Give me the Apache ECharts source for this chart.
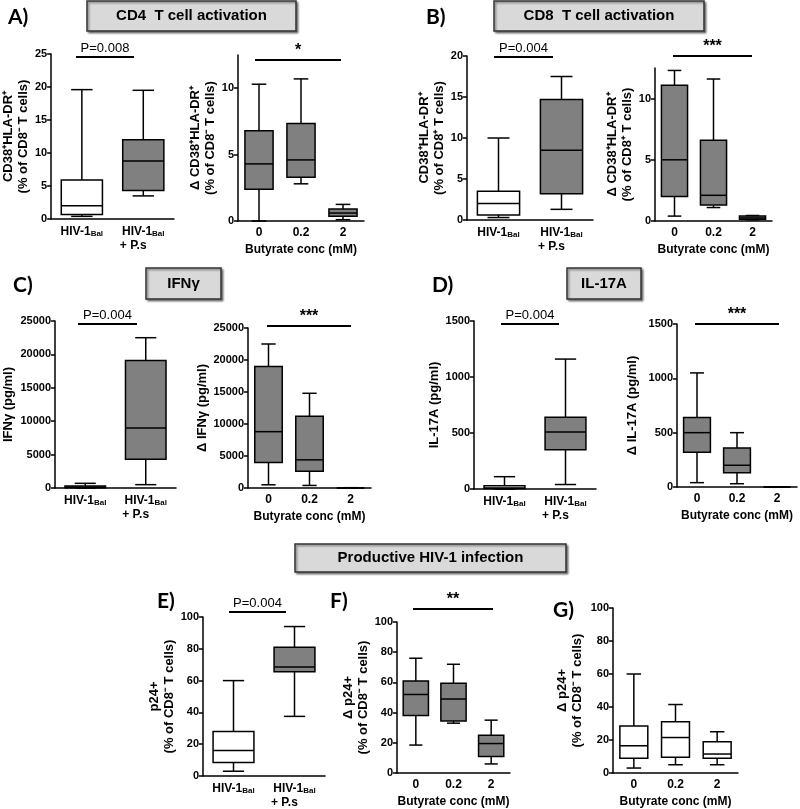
<!DOCTYPE html>
<html><head><meta charset="utf-8">
<script src="https://cdn.jsdelivr.net/npm/echarts@6/dist/echarts.min.js"></script>
<style>html,body{margin:0;padding:0;background:#fff}#c{width:800px;height:809px}</style>
</head><body><div id="c"></div>
<script>
// ---------------- DATA ----------------
const catsInfection = ['HIV-1Bal', 'HIV-1Bal + P.s'];
const catsButyrate = ['0', '0.2', '2'];
// each box: [min, Q1, median, Q3, max]
const cd4Infection = [[0.4, 0.7, 2.0, 5.9, 19.6], [3.5, 4.3, 8.8, 12.0, 19.5]];
const cd4Butyrate = [[0.0, 2.4, 4.3, 6.8, 10.3], [2.8, 3.3, 4.6, 7.35, 10.7], [0.1, 0.35, 0.6, 0.9, 1.25]];
const cd8Infection = [[0.3, 0.6, 2.0, 3.5, 10.0], [1.3, 3.2, 8.5, 14.7, 17.5]];
const cd8Butyrate = [[0.4, 2.0, 5.0, 11.1, 12.3], [1.1, 1.3, 2.1, 6.6, 11.6], [0.1, 0.15, 0.25, 0.4, 0.45]];
const ifngInfection = [[0, 50, 150, 300, 700], [500, 4300, 9000, 19100, 22500]];
const ifngButyrate = [[500, 4000, 8800, 19000, 22500], [400, 2600, 4400, 11200, 14800], [0, 0, 0, 0, 50]];
const il17Infection = [[0, 5, 10, 30, 110], [40, 350, 510, 640, 1160]];
const il17Butyrate = [[40, 320, 500, 640, 1050], [30, 130, 200, 360, 500], [0, 0, 0, 0, 0]];
const p24Infection = [[3, 8.5, 16, 28, 60], [37.5, 65.5, 68.5, 81, 94]];
const p24ButyrateF = [[18.5, 38, 52, 61, 76], [33, 34.5, 49, 59.5, 72], [6, 11, 19.5, 25, 35]];
const p24ButyrateG = [[3, 9, 16.5, 28.5, 60], [5, 9.5, 21.5, 31, 41.5], [5, 9, 11.5, 19, 25]];

const ticksCd4Inf = [0, 5, 10, 15, 20, 25];
const ticksDelta12 = [0, 5, 10];
const ticksCd8Inf = [0, 5, 10, 15, 20];
const ticksIfng = [0, 5000, 10000, 15000, 20000, 25000];
const ticksIl17 = [0, 500, 1000, 1500];
const ticksP24 = [0, 20, 40, 60, 80, 100];

const pValA = 'P=0.008', pValB = 'P=0.004', pValC = 'P=0.004', pValD = 'P=0.004', pValE = 'P=0.004';

// ---------------- STYLE / LAYOUT ----------------
const FONT = '"Liberation Sans", Arial, sans-serif';
const LFONT = 'Lato, "Open Sans", sans-serif';
const GREY = '#808080';
const W = '#ffffff';

const panels = [
  {rect:[50, 54, 124, 165], cats:catsInfection, data:cd4Infection, ticks:ticksCd4Inf, max:25, fills:[W, GREY],
   name:'CD38⁺HLA-DR⁺\n(% of CD8⁻ T cells)', gap:19},
  {rect:[238, 55, 126, 166], cats:catsButyrate, data:cd4Butyrate, ticks:ticksDelta12, max:12.5, fills:[GREY, GREY, GREY],
   name:'Δ CD38⁺HLA-DR⁺\n(% of CD8⁻ T cells)', gap:19},
  {rect:[467, 56, 126, 164], cats:catsInfection, data:cd8Infection, ticks:ticksCd8Inf, max:20, fills:[W, GREY],
   name:'CD38⁺HLA-DR⁺\n(% of CD8⁺ T cells)', gap:18},
  {rect:[655, 68, 117, 153], cats:catsButyrate, data:cd8Butyrate, ticks:ticksDelta12, max:12.5, fills:[GREY, GREY, GREY],
   name:'Δ CD38⁺HLA-DR⁺\n(% of CD8⁺ T cells)', gap:19},
  {rect:[52, 321, 124, 167], cats:catsInfection, data:ifngInfection, ticks:ticksIfng, max:25000, fills:[W, GREY],
   name:'IFNγ (pg/ml)', gap:39},
  {rect:[248, 328, 123, 160], cats:catsButyrate, data:ifngButyrate, ticks:ticksIfng, max:25000, fills:[GREY, GREY, GREY],
   name:'Δ IFNγ (pg/ml)', gap:38},
  {rect:[474, 321, 122, 168], cats:catsInfection, data:il17Infection, ticks:ticksIl17, max:1500, fills:[W, GREY],
   name:'IL-17A (pg/ml)', gap:30},
  {rect:[677, 324, 120, 163], cats:catsButyrate, data:il17Butyrate, ticks:ticksIl17, max:1500, fills:[GREY, GREY, GREY],
   name:'Δ IL-17A (pg/ml)', gap:37},
  {rect:[203, 617, 122, 159], cats:catsInfection, data:p24Infection, ticks:ticksP24, max:100, fills:[W, GREY],
   name:'p24+\n(% of CD8⁻ T cells)', gap:17},
  {rect:[397, 622, 113, 151], cats:catsButyrate, data:p24ButyrateF, ticks:ticksP24, max:100, fills:[GREY, GREY, GREY],
   name:'Δ p24+\n(% of CD8⁻ T cells)', gap:17},
  {rect:[613, 608, 125, 166], cats:catsButyrate, data:p24ButyrateG, ticks:ticksP24, max:100, fills:[W, W, W],
   name:'Δ p24+\n(% of CD8⁻ T cells)', gap:28}
];

function boxRenderer(fills) {
  return function (params, api) {
    const i = api.value(0);
    const pts = [1, 2, 3, 4, 5].map(k => api.coord([i, api.value(k)]));
    const cx = pts[0][0];
    const band = api.size([1, 0])[0];
    const hw = band * 0.67 / 2, cw = hw * 0.52;
    const st = {stroke: '#000', lineWidth: 1.5, fill: null};
    return {type: 'group', children: [
      {type: 'line', shape: {x1: cx, y1: pts[4][1], x2: cx, y2: pts[0][1]}, style: st},
      {type: 'line', shape: {x1: cx - cw, y1: pts[4][1], x2: cx + cw, y2: pts[4][1]}, style: st},
      {type: 'line', shape: {x1: cx - cw, y1: pts[0][1], x2: cx + cw, y2: pts[0][1]}, style: st},
      {type: 'rect', shape: {x: cx - hw, y: pts[3][1], width: 2 * hw, height: pts[1][1] - pts[3][1]},
       style: {fill: fills[i], stroke: '#000', lineWidth: 1.5}},
      {type: 'line', shape: {x1: cx - hw, y1: pts[2][1], x2: cx + hw, y2: pts[2][1]}, style: st}
    ]};
  };
}

const axLine = {lineStyle: {color: '#000', width: 1.5}};
const richX = {
  b: {fontFamily: FONT, fontSize: 12, fontWeight: 'bold', color: '#000'},
  s: {fontFamily: FONT, fontSize: 8, fontWeight: 'bold', color: '#000', padding: [5, 0, 0, 0]},
  p: {fontFamily: FONT, fontSize: 12, fontWeight: 'bold', color: '#000', width: 47, align: 'left', padding: [2, 0, 0, 0]}
};
function xFormatter(v) {
  if (v === 'HIV-1Bal') return '{b|HIV-1}{s|Bal}';
  if (v === 'HIV-1Bal + P.s') return '{b|HIV-1}{s|Bal}\n{p|+ P.s}';
  return '{b|' + v + '}';
}

const grids = [], xAxes = [], yAxes = [], series = [];
panels.forEach((p, k) => {
  grids.push({left: p.rect[0], top: p.rect[1], width: p.rect[2], height: p.rect[3], containLabel: false});
  const isBut = p.cats === catsButyrate;
  xAxes.push({
    type: 'category', gridIndex: k, data: p.cats, axisLine: axLine,
    axisTick: {alignWithLabel: true, length: 4, lineStyle: {color: '#000', width: 1.5}},
    axisLabel: {margin: 6, formatter: xFormatter, rich: richX, interval: 0},
    name: isBut ? 'Butyrate conc (mM)' : '', nameLocation: 'middle', nameGap: 23,
    nameTextStyle: {fontFamily: FONT, fontSize: 12, fontWeight: 'bold', color: '#000'}
  });
  yAxes.push({
    type: 'value', gridIndex: k, min: 0, max: p.max,
    interval: p.ticks[1] - p.ticks[0],
    axisLine: {show: true, lineStyle: {color: '#000', width: 1.5}},
    axisTick: {show: true, length: 4, lineStyle: {color: '#000', width: 1.5}, customValues: p.ticks},
    axisLabel: {fontFamily: FONT, fontSize: 11, fontWeight: 'bold', color: '#000', margin: 4, customValues: p.ticks,
      formatter: v => String(v)},
    splitLine: {show: false},
    name: p.name, nameLocation: 'middle', nameRotate: 90, nameGap: p.gap,
    nameTextStyle: {fontFamily: FONT, fontSize: 13, fontWeight: 'bold', color: '#000', lineHeight: 15}
  });
  series.push({
    type: 'custom', xAxisIndex: k, yAxisIndex: k,
    data: p.data.map((d, i) => [i].concat(d)),
    encode: {x: 0, y: [1, 2, 3, 4, 5]},
    renderItem: boxRenderer(p.fills), silent: true
  });
});

// ---------------- ANNOTATIONS ----------------
const headers = [
  {x: 87, y: 1, w: 209, h: 30, t: 'CD4  T cell activation'},
  {x: 494, y: 1, w: 210, h: 30, t: 'CD8  T cell activation'},
  {x: 146, y: 268, w: 75, h: 31, t: 'IFNγ'},
  {x: 567, y: 268, w: 74, h: 31, t: 'IL-17A'},
  {x: 295, y: 544, w: 271, h: 28, t: 'Productive HIV-1 infection'}
];
const letters = [
  {x: 8, y: 17, t: 'A)'}, {x: 426, y: 17, t: 'B)'}, {x: 13, y: 285, t: 'C)'}, {x: 432, y: 285, t: 'D)'},
  {x: 157, y: 601, t: 'E)'}, {x: 330, y: 601, t: 'F)'}, {x: 553, y: 610, t: 'G)'}
];
const sigs = [
  {x1: 76, x2: 134, y: 57, t: pValA, star: false},
  {x1: 255, x2: 341, y: 60, t: '*', star: true},
  {x1: 494, x2: 553, y: 57, t: pValB, star: false},
  {x1: 673, x2: 752, y: 56, t: '***', star: true},
  {x1: 78, x2: 137, y: 324, t: pValC, star: false},
  {x1: 267, x2: 351, y: 326, t: '***', star: true},
  {x1: 501, x2: 559, y: 324, t: pValD, star: false},
  {x1: 695, x2: 779, y: 324, t: '***', star: true},
  {x1: 229, x2: 286, y: 612, t: pValE, star: false},
  {x1: 413, x2: 493, y: 609, t: '**', star: true}
];
const graphic = [];
headers.forEach(h => {
  graphic.push({type: 'rect', shape: {x: h.x, y: h.y, width: h.w, height: h.h},
    style: {fill: '#d9d9d9', stroke: '#333', lineWidth: 1.5, shadowBlur: 2, shadowOffsetX: 1.5, shadowOffsetY: 1.5, shadowColor: 'rgba(0,0,0,0.45)'}});
  graphic.push({type: 'text', x: h.x + h.w / 2, y: h.y + h.h / 2,
    style: {text: h.t, fontFamily: FONT, fontSize: 15, fontWeight: 'bold', fill: '#000', align: 'center', verticalAlign: 'middle'}});
});
letters.forEach(l => graphic.push({type: 'text', x: l.x, y: l.y,
  style: {text: l.t, fontFamily: LFONT, fontSize: 21, fontWeight: 'bold', fill: '#000', align: 'left', verticalAlign: 'middle'}}));
sigs.forEach(s => {
  graphic.push({type: 'line', shape: {x1: s.x1, y1: s.y, x2: s.x2, y2: s.y}, style: {stroke: '#000', lineWidth: 2}});
  graphic.push({type: 'text', x: (s.x1 + s.x2) / 2, y: s.y - 9,
    style: {text: s.t, fontFamily: FONT, fontSize: s.star ? 16 : 13, fontWeight: s.star ? 'bold' : 'normal', fill: '#000', align: 'center', verticalAlign: 'middle'}});
});

const chart = echarts.init(document.getElementById('c'), null, {renderer: 'canvas'});
chart.setOption({
  animation: false, backgroundColor: '#fff',
  grid: grids, xAxis: xAxes, yAxis: yAxes, series: series, graphic: graphic
});
</script></body></html>
